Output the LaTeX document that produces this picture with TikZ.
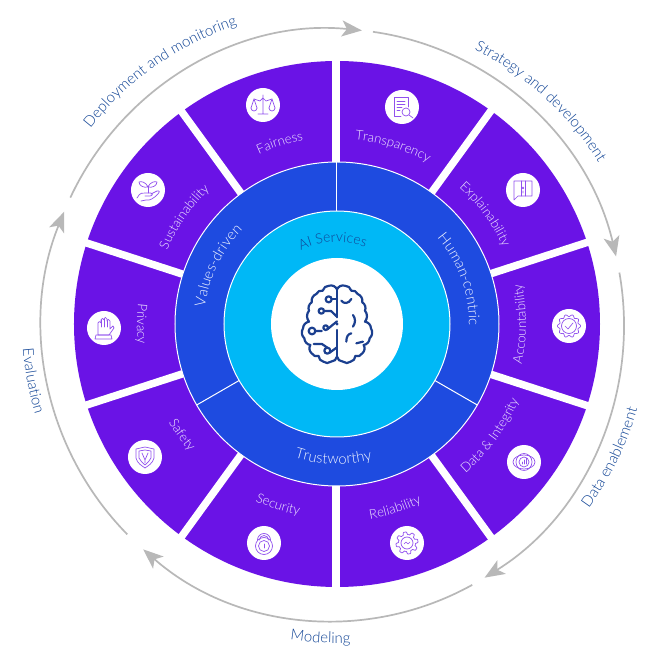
\documentclass[tikz,border=0pt]{standalone}
\usepackage{fontspec}
\usetikzlibrary{arrows.meta,decorations.text}
\newfontfamily\labfont{Lato Light}
\newcommand{\segfont}{\labfont\fontsize{13.2}{15}\selectfont}
\newcommand{\outfont}{\labfont\fontsize{15}{17}\selectfont}
\newcommand{\midfont}{\labfont\fontsize{14.8}{16}\selectfont}
\newcommand{\aifont}{\labfont\fontsize{14}{16}\selectfont}
\definecolor{segpurple}{HTML}{6A13E6}
\definecolor{ringblue}{HTML}{1E4BE0}
\definecolor{corecyan}{HTML}{00B8F6}
\definecolor{textblue}{HTML}{124596}
\definecolor{braincol}{HTML}{1B3F8F}
\definecolor{arrowgray}{HTML}{B8B8B8}
\definecolor{seglabel}{HTML}{EFE8FF}
\definecolor{ringlabel}{HTML}{EEF3FF}
\definecolor{iconcol}{HTML}{9150EE}
\newcommand{\cwlabel}[5]{\path[decorate,decoration={text along path,text align=center,text color=#4,text={|#3|#5}}] ({#2+60}:#1) arc[start angle=#2+60,end angle=#2-60,radius=#1];}
\newcommand{\ccwlabel}[5]{\path[decorate,decoration={text along path,text align=center,text color=#4,text={|#3|#5}}] ({#2-60}:#1) arc[start angle=#2-60,end angle=#2+60,radius=#1];}
\tikzset{
  disc/.style={circle,fill=white,draw=none,minimum size=34pt,inner sep=0pt},
  icon/.style={draw=iconcol,line width=.7pt,line join=round,line cap=round},
  brain/.style={draw=braincol,line width=2.2pt,line cap=round,line join=round,x=.3333pt,y=.3333pt},
  flow/.style={draw=arrowgray,line width=1.7pt,-{Stealth[length=20pt,width=16pt,inset=5pt]}},
  spoke/.style={draw=white,line width=7.5pt},
  divider/.style={draw=white,line width=1pt},
  bl/.style={bend left=38},
}
\begin{document}
\begin{tikzpicture}[x=1pt,y=1pt]
\useasboundingbox (-337,-334) rectangle (330,324);
\fill[white] (-337,-334) rectangle (330,324);
% segments
\fill[segpurple] (0,0) circle[radius=263];
\foreach \a in {90,54,18,-18,-54,-90,-126,-162,162,126}
  \draw[spoke] ([shift={(-1,0)}]\a:150) -- ([shift={(-1,0)}]\a:272);
% ring and core
\draw[fill=ringblue,draw=white,line width=1pt] (0,0) circle[radius=162];
\foreach \a in {90,-30,-150} \draw[divider] (\a:113) -- (\a:162);
\draw[fill=corecyan,draw=white,line width=1pt] (0,0) circle[radius=113];
\fill[white] (0,0) circle[radius=66];
% flow arrows
\begin{scope}[shift={(-4,-1)}]
\coordinate (f1) at (154.5:291 and 296);
\coordinate (f2) at (82.1:291 and 296);
\coordinate (f3) at (10.2:291 and 296);
\coordinate (f4) at (-61.4:291 and 296);
\coordinate (f5) at (225:291 and 296);
\draw[flow] (f1) arc[start angle=154.5,end angle=84.3,x radius=291,y radius=296];
\draw[flow] (f2) arc[start angle=82.1,end angle=13.4,x radius=291,y radius=296];
\draw[flow] (f3) arc[start angle=10.2,end angle=-58.6,x radius=291,y radius=296];
\draw[flow] (f4) arc[start angle=-61.4,end angle=-130.7,x radius=291,y radius=296];
\draw[flow] (f5) arc[start angle=225,end angle=157.5,x radius=291,y radius=296];
\end{scope}
% labels
\cwlabel{315}{125}{\outfont}{textblue}{Deployment and monitoring}
\cwlabel{307}{47.5}{\outfont}{textblue}{Strategy and development}
\ccwlabel{312}{-26}{\outfont}{textblue}{Data enablement}
\ccwlabel{319}{-93}{\outfont}{textblue}{Modeling}
\ccwlabel{315}{190.6}{\outfont}{textblue}{Evaluation}
\cwlabel{187}{107.5}{\segfont}{seglabel}{Fairness}
\cwlabel{185}{72.5}{\segfont}{seglabel}{Transparency}
\cwlabel{183}{36.5}{\segfont}{seglabel}{Explainability}
\ccwlabel{189}{0}{\segfont}{seglabel}{Accountability}
\ccwlabel{197}{-36}{\segfont}{seglabel}{Data {\&} Integrity}
\ccwlabel{198}{-72.5}{\segfont}{seglabel}{Reliability}
\ccwlabel{195}{-108}{\segfont}{seglabel}{Security}
\ccwlabel{195}{-144.4}{\segfont}{seglabel}{Safety}
\ccwlabel{200}{180}{\segfont}{seglabel}{Privacy}
\cwlabel{185}{145}{\segfont}{seglabel}{Sustainability}
\cwlabel{133}{154}{\midfont}{ringlabel}{Values-driven}
\cwlabel{132}{20}{\midfont}{ringlabel}{Human-centric}
\ccwlabel{140}{-91.5}{\midfont}{ringlabel}{Trustworthy}
\cwlabel{82}{93}{\aifont}{textblue}{AI Services}
% icon discs
\node[disc] (fair) at (-74,219) {};
\node[disc] (transp) at (65,217) {};
\node[disc] (expl) at (186,134) {};
\node[disc] (acc) at (232,-2) {};
\node[disc] (data) at (187,-138) {};
\node[disc] (rel) at (70,-219) {};
\node[disc] (sec) at (-73,-219) {};
\node[disc] (saf) at (-192,-133) {};
\node[disc] (priv) at (-233,-4) {};
\node[disc] (sust) at (-189,134) {};
% scales
\begin{scope}[shift={(fair.center)}]
\draw[icon] (0,-9)--(0,10) (-5,-9)--(5,-9) (-9,6)--(-3,4) (3,4)--(9,6) (-3,4)--(0,7)--(3,4);
\draw[icon] (-12,-3)--(-9,6)--(-6,-3) (12,-3)--(9,6)--(6,-3);
\draw[icon] (-12,-3) arc[start angle=180,end angle=360,radius=3];
\draw[icon] (6,-3) arc[start angle=180,end angle=360,radius=3];
\end{scope}
% document and lens
\begin{scope}[shift={(transp.center)}]
\draw[icon] (-1,-9)--(-8,-9)--(-8,10)--(6,10)--(6,0);
\draw[icon] (-5,6)--(3,6) (-5,3)--(3,3) (-5,0)--(0,0) (-5,-3)--(-2,-3);
\draw[icon] (4,-5) circle[radius=4];
\draw[icon] (7,-8)--(11,-11);
\end{scope}
% speech bubble
\begin{scope}[shift={(expl.center)}]
\draw[icon] (-9,-6)--(-9,9)--(9,9)--(9,-6)--(-5,-6)--(-9,-10)--(-9,-6);
\draw[icon] (-2,-6)--(-2,9) (2,-6)--(2,9);
\draw[icon] (0,2) circle[radius=1] (0,-3)--(0,-1);
\end{scope}
% badge
\begin{scope}[shift={(acc.center)}]
\draw[icon,variable=\t,domain=0:360,samples=97,smooth] plot ({(10.5+1.1*cos(10*\t))*cos(\t)},{(10.5+1.1*cos(10*\t))*sin(\t)});
\draw[icon] (0,0) circle[radius=7.5];
\draw[icon] (-4,0)--(-1,-3)--(4,3);
\end{scope}
% eye and bars
\begin{scope}[shift={(data.center)}]
\draw[icon] (0,0) ellipse[x radius=11,y radius=7];
\draw[icon] (0,0) ellipse[x radius=8,y radius=8.5];
\draw[icon] (0,0) circle[radius=5];
\draw[icon] (-2,-2)--(-2,0) (0,-2)--(0,2) (2,-2)--(2,4);
\end{scope}
% gear
\begin{scope}[shift={(rel.center)}]
\draw[icon,variable=\t,domain=0:360,samples=145] plot ({(9.8+1.6*sin(8*\t)+.4*sin(24*\t))*cos(\t)},{(9.8+1.6*sin(8*\t)+.4*sin(24*\t))*sin(\t)});
\draw[icon] (0,0) circle[radius=6];
\draw[icon] (-3,-1)--(-1,1)--(1,-1)--(3,1);
\end{scope}
% lock
\begin{scope}[shift={(sec.center)}]
\draw[icon] (-6.5,3) arc[start angle=180,end angle=0,radius=6.5];
\draw[icon] (-4.5,3) arc[start angle=180,end angle=0,radius=4.5];
\draw[icon] (0,-3) circle[radius=8.5];
\draw[icon] (0,-3) circle[radius=5.5];
\draw[icon] (0,-5)--(0,-1);
\end{scope}
% shield
\begin{scope}[shift={(saf.center)}]
\draw[icon] (-9,8)--(0,10)--(9,8)--(9,-1) .. controls (8,-6) and (3,-9) .. (0,-11) .. controls (-3,-9) and (-8,-6) .. (-9,-1)--cycle;
\draw[icon] (-6,6)--(-6,-1) .. controls (-5,-4) and (-2,-6) .. (0,-8) .. controls (2,-6) and (5,-4) .. (6,-1)--(6,6)--(0,7)--cycle;
\draw[icon] (-3,4)--(0,-3)--(3,4) (0,-3)--(0,-6);
\end{scope}
% hand
\begin{scope}[shift={(priv.center)}]
\draw[icon] (-6,-7)--(-6,5) arc[start angle=180,end angle=0,radius=1.5]--(-3,8) arc[start angle=180,end angle=0,radius=1.5]--(0,9) arc[start angle=180,end angle=0,radius=1.5]--(3,7) arc[start angle=180,end angle=0,radius=1.5]--(6,-1)--(9,2)--(10,0)--(5,-7)--cycle;
\draw[icon] (-3,8)--(-3,1) (0,9)--(0,1) (3,7)--(3,1);
\draw[icon] (-8,-7)--(7,-7)--(8,-11)--(-9,-11)--cycle;
\end{scope}
% hand with plant
\begin{scope}[shift={(sust.center)}]
\draw[icon] (-11,-8) .. controls (-8,-2) and (-5,-3) .. (-2,-3)--(3,-3) .. controls (5,-3) and (5,-6) .. (2,-6)--(-3,-6);
\draw[icon] (3,-4)--(9,-1) .. controls (12,0) and (12,-3) .. (10,-4) .. controls (6,-8) and (2,-11) .. (-2,-10)--(-7,-11);
\draw[icon] (0,-3)--(0,4);
\draw[icon] (0,3) .. controls (-2,8) and (-7,9) .. (-9,8) .. controls (-9,4) and (-4,2) .. (0,3);
\draw[icon] (0,3) .. controls (2,8) and (7,9) .. (9,8) .. controls (9,4) and (4,2) .. (0,3);
\end{scope}
% brain
\begin{scope}[x=.3333pt,y=.3333pt]
\foreach \s in {1,-1}{
  \begin{scope}[xscale=\s]
  \draw[brain] (0,104) to[bl] (23,115) to[bl] (43,100) to[bl] (62,90) to[bl] (76,65) to[bl] (84,40) to[bl] (84,7) to[bl] (102,-13) to[bl] (98,-43) to[bl] (80,-63) to[bl] (76,-88) to[bl] (55,-96) to[bl] (41,-113) to[bl] (18,-113) to[bl] (0,-98);
  \end{scope}
}
\draw[brain] (0,104)--(0,20) (0,-18)--(0,-98);
\fill[braincol] (0,0) circle[radius=5];
\draw[brain] (13,70) .. controls (20,60) and (35,60) .. (43,75);
\draw[brain] (48,27) .. controls (56,15) and (56,5) .. (48,-8);
\draw[brain] (28,-53) .. controls (28,-38) and (33,-30) .. (43,-28);
\draw[brain] (58,-58) -- (78,-53);
\draw[brain] (-25,74) circle[radius=9];
\draw[brain] (-47,39) circle[radius=8];
\draw[brain] (-75,-21) circle[radius=10];
\draw[brain] (-34,-11) circle[radius=7];
\draw[brain] (-29,-80) circle[radius=9];
\draw[brain] (-16,74)--(0,74);
\draw[brain] (-39,39)--(-18,39)--(0,22);
\draw[brain] (-65,-21)--(-46,-21) (-29,-16)--(0,8);
\draw[brain] (-29,-71)--(-45,-60)--(-70,-60);
\draw[brain] (-22,-86)--(0,-70);
\end{scope}
\end{tikzpicture}
\end{document}
